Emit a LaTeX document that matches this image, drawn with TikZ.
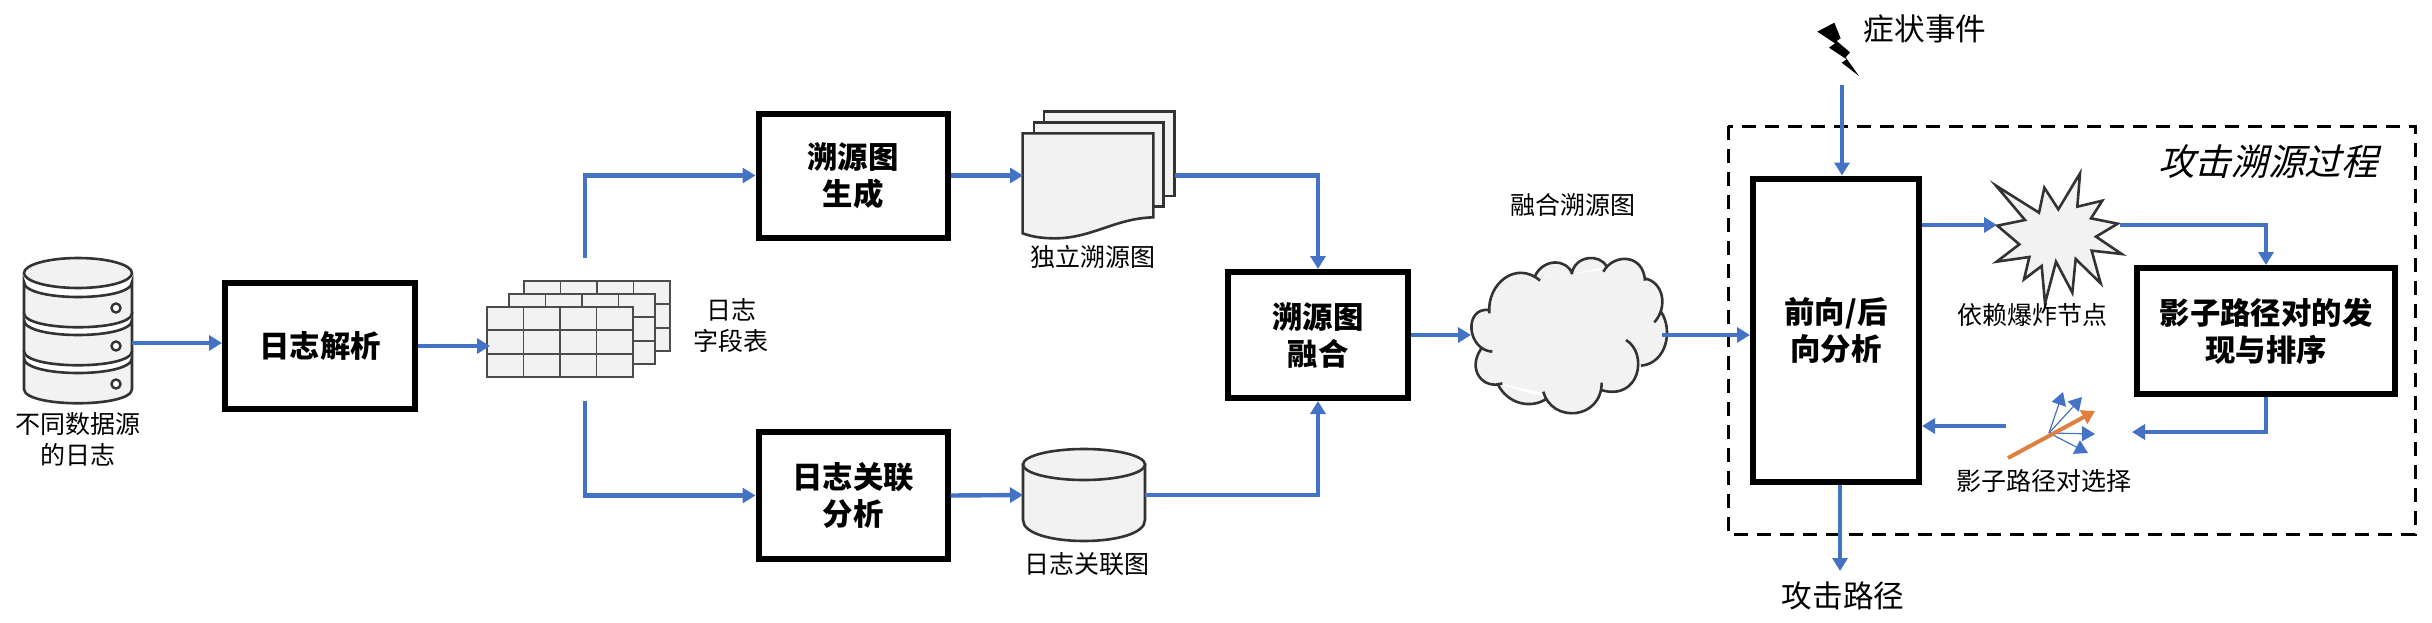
\documentclass[tikz,border=0pt]{standalone}
\usepackage{fontspec}
\setmainfont{Noto Sans CJK SC}
\newfontfamily\slantcjk[FakeSlant=0.25]{Noto Sans CJK SC}
\usetikzlibrary{shapes,arrows.meta}
\definecolor{flowblue}{HTML}{4472C4}
\definecolor{pickorange}{HTML}{E08040}
\definecolor{sheetgray}{HTML}{F2F2F2}
\definecolor{edgegray}{HTML}{333333}
\tikzset{>={Triangle[length=6.5pt,width=7.5pt]}}
\tikzset{
  stepbox/.style={draw, line width=3pt, fill=white, align=center, font=\fontsize{15.2}{18.5}\selectfont\bfseries},
  caption/.style={align=center, inner sep=0pt, font=\fontsize{12.5}{15.5}\selectfont},
  biglabel/.style={inner sep=0pt, font=\fontsize{15.3}{18}\selectfont},
  flow/.style={->, flowblue, line width=2.2pt},
  sheet/.style={fill=sheetgray, draw=edgegray, line width=1.3pt}
}

\begin{document}
\begin{tikzpicture}[x=0.5pt,y=-0.5pt]
  \useasboundingbox (0,0) rectangle (2432,622);
  % attack tracing frame
  \draw[line width=1.5pt, dash pattern=on 7pt off 4.5pt] (1728,126) rectangle (2415,534);
  \node (tracetitle) at (2268,162) [inner sep=0pt, font=\fontsize{18.3}{22}\selectfont\slantcjk] {攻击溯源过程};
  % data source stack
  \foreach \y in {282,320,358} {
    \draw[sheet] (24,\y) .. controls (24,\y+20) and (132,\y+20) .. (132,\y) -- (132,\y+31) .. controls (132,\y+50) and (24,\y+50) .. (24,\y+31) -- cycle;
    \draw[edgegray, line width=1.2pt, fill=white] (116,\y+26) circle (4.5);
  }
  \draw[sheet] (78,273) ellipse (54 and 15);
  \node (srclabel) at (78,439) [caption] {不同数据源\\的日志};
  \coordinate (dbout) at (132,343);
  % main boxes
  \node (parse) at (320,346) [stepbox, minimum width=95pt, minimum height=63pt] {日志解析};
  \node (prov) at (853,175.5) [stepbox, minimum width=94.5pt, minimum height=62pt] {溯源图\\生成};
  \node (corr) at (853,495.5) [stepbox, minimum width=94.5pt, minimum height=63.5pt] {日志关联\\分析};
  \node (merge) at (1318,335) [stepbox, minimum width=90pt, minimum height=63pt] {溯源图\\融合};
  \node (analysis) at (1836,330) [stepbox, minimum width=83pt, minimum height=151.5pt] {前向/后\\向分析};
  \node (shadow) at (2266,331) [stepbox, minimum width=129pt, minimum height=63pt] {影子路径对的发\\现与排序};
  % field tables
  \foreach \x/\y in {524/281, 509/294, 487/307} {
    \draw[fill=sheetgray, draw=black!70, line width=0.9pt] (\x,\y) rectangle +(146,70);
    \foreach \i in {1,2,3} \draw[black!70, line width=0.9pt] (\x+36.5*\i,\y) -- +(0,70);
    \foreach \j in {1,2} \draw[black!70, line width=0.9pt] (\x,\y+23.3*\j) -- +(146,0);
  }
  \node (fieldlabel) at (731,326) [caption] {日志\\字段表};
  \coordinate (fieldin) at (490,346);
  \coordinate (fieldup) at (585,258);
  \coordinate (fielddown) at (585,401);
  % provenance graph sheets
  \begin{scope}[shift={(1015,105)},scale=1/3]
    \draw[sheet] (87,20) rectangle (478,273);
    \draw[sheet] (57,52) rectangle (445,305);
    \draw[sheet] (23,85) -- (415,85) -- (415,337) .. controls (300,340) and (230,400) .. (120,400) .. controls (80,400) and (50,395) .. (23,385) -- cycle;
  \end{scope}
  \node (doclabel) at (1093,257) [caption] {独立溯源图};
  \coordinate (docin) at (1023,175.5);
  \coordinate (docout) at (1175,175.5);
  % correlation graph
  \draw[sheet] (1023,464.5) -- (1023,520) .. controls (1023,548) and (1145,548) .. (1145,520) -- (1145,464.5) -- cycle;
  \draw[sheet] (1084,464.5) ellipse (61 and 15.5);
  \node (corrmap) at (1084,495) [inner sep=0pt, outer sep=0pt, minimum width=61pt] {};
  \node (corrlabel) at (1087,564) [caption] {日志关联图};
  % merged graph cloud
  \begin{scope}[shift={(1460,250)},scale=1/3]
    \fill[sheetgray] (88,185) -- (225,80) -- (337,72) -- (435,58) -- (553,88) -- (605,187) -- (543,347) -- (425,400) -- (255,430) -- (120,400) -- (63,297) -- cycle;
    \filldraw[fill=sheetgray, draw=edgegray, line width=1.3pt]
      (88,190) .. controls (80,100) and (170,30) .. (240,92)
      (225,78) .. controls (250,25) and (320,25) .. (337,72)
      (335,72) .. controls (345,15) and (420,10) .. (440,50)
      (430,65) .. controls (460,10) and (550,10) .. (555,92)
      (553,85) .. controls (610,95) and (625,170) .. (583,217)
      (603,185) .. controls (640,240) and (620,340) .. (543,347)
      (498,270) .. controls (565,310) and (540,455) .. (423,420)
      (425,398) .. controls (425,510) and (275,520) .. (250,425)
      (262,445) .. controls (210,480) and (140,460) .. (112,400)
      (127,400) .. controls (70,420) and (20,360) .. (63,297)
      (97,305) .. controls (20,300) and (10,170) .. (88,180);
  \end{scope}
  \node (cloudlabel) at (1573,205) [caption] {融合溯源图};
  \coordinate (cloudin) at (1471,335);
  \coordinate (cloudout) at (1662,335);
  % symptom event
  \begin{scope}[shift={(1800,10)},scale=1/3]
    \fill (52,65) -- (103,38) -- (122,85) -- (110,93) -- (150,127) -- (137,142) -- (177,198) -- (125,158) -- (140,148) -- (87,113) -- (105,100) -- cycle;
  \end{scope}
  \node (symptomlabel) at (1925,29) [biglabel] {症状事件};
  \coordinate (symptom) at (1842,85);
  % dependency explosion burst
  \begin{scope}[shift={(1985,165)},scale=1/3]
    \draw[sheet] (33,62) -- (162,143) -- (178,68) -- (220,133) -- (285,25) -- (277,125) -- (352,107) -- (318,160) -- (398,176) -- (333,215) -- (410,267) -- (320,257) -- (347,355) -- (272,282) -- (262,383) -- (213,290) -- (180,415) -- (170,303) -- (117,343) -- (133,276) -- (35,290) -- (103,238) -- (37,182) -- (120,165) -- cycle;
  \end{scope}
  \node (burstlabel) at (2032,315) [caption] {依赖爆炸节点};
  \coordinate (burstin) at (1997,225);
  \coordinate (burstout) at (2120,225);
  % shadow path pair picking
  \coordinate (fanroot) at (2049,433);
  \foreach \tip in {(2063,392),(2082,397),(2095,434),(2088,453)}
    \draw[->, flowblue, line width=0.6pt] (fanroot) -- \tip;
  \coordinate (pickfrom) at (2008,458);
  \coordinate (pickto) at (2095,411);
  \draw[->, pickorange, line width=2pt] (pickfrom) -- (pickto);
  \node (picklabel) at (2044,481) [caption] {影子路径对选择};
  \coordinate (fanin) at (2132,432);
  \coordinate (fanout) at (2006,426);
  % attack path
  \coordinate (pathend) at (1840,571);
  \node (pathlabel) at (1843,596) [biglabel] {攻击路径};
  % connectors
  \draw[flow] (dbout) -- (parse.west |- dbout);
  \draw[flow] (parse.east) -- (fieldin);
  \draw[flow] (fieldup) |- (prov.west);
  \draw[flow] (fielddown) |- (corr.west);
  \draw[flow] (prov.east) -- (docin);
  \draw[flow] (corr.east) -- (corrmap.west);
  \draw[flow] (docout) -| (merge.north);
  \draw[flow] (corrmap.east) -| (merge.south);
  \draw[flow] (merge.east) -- (cloudin);
  \draw[flow] (cloudout) -- (analysis.west |- cloudout);
  \draw[flow] (symptom) -- (analysis.north -| symptom);
  \draw[flow] (analysis.south -| pathend) -- (pathend);
  \draw[flow] (analysis.east |- burstin) -- (burstin);
  \draw[flow] (burstout) -| (shadow.north);
  \draw[flow] (shadow.south) |- (fanin);
  \draw[flow] (fanout) -- (analysis.east |- fanout);
\end{tikzpicture}
\end{document}
